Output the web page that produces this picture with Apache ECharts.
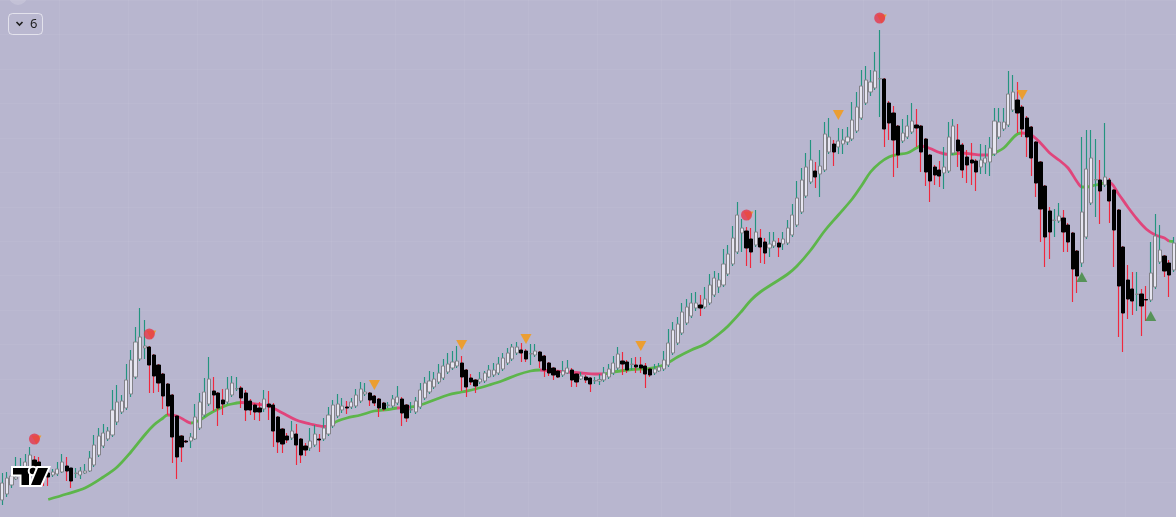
<!DOCTYPE html>
<html><head><meta charset="utf-8">
<script src="https://cdn.jsdelivr.net/npm/echarts@6/dist/echarts.min.js"></script>
<style>html,body{margin:0;padding:0;background:#b8b6cf;overflow:hidden}#c{width:1176px;height:517px}</style>
</head><body><div id="c"></div>
<script>
const opens = [
17,23,32,38,40,42,50,57,55,48,
44,42,43,45,51,49,43.5,42,44,46,
52,62,71,78,82,95,105,109,123,140,
158,169,170,162,152,143,133,122,101,81,
76,76,78,89,102,113,126,124,117,115,
122,128,129,124,116,112,109,108,113,112,
100,88,81,79,83,78,71,69,72,78,
78,83,91,101,107,110,110,111,116,123,
124,121,118,114,111.5,111,114,118,112,107,
105,110,119,125,130,135,139,145,149,151,
154,147,139,137,135,136,140,142,144,148,
154,158,164,167,166,163,162,165,161,154,
149,146,142,144,147,143,138,140,139,136,
136,137,140,144,149,156,155,152.5,152,152,
151,148,144,146,148,152,164,174,184,194,
201,209,212,210,214,222,230,232,243,253,
265,284,286,278,272,279,275,269,271,274,
273,274,282,292,305,321,335,346,343,347,
365,373,370,373,375,378,386,399,414,425,
429,438,438,414,404,391,376,380,385,392,
391,378,362,350,347,344,346,364,377,372,
360,357,356,350,354,355,363,380,388,392,
407,417,410,399,390,375,355,331,306,296.5,
296,299,292,284,266,254,280,314,337,337,
332,337,327,307,270,237,228,222.5,223,217.5,
217,230,255,261,254,247];
const closes = [
34,39,41,40,45,55,62,51,50,40,
40,45,48,55,46,36,44,46,46,59,
72,81,84,86,107,115,116,137,157,175,
180,171,152,141,134,121,111,80,60,70,
75,80,100,115,125,138,122,109,113,128,
134,128.5,119,107,107,105,105,118,110,86,
75,73,77,86,72,62,67,76,83,77,
89,102,112,113,111,109,115,122,128,125,
117,114,109,108,112,118,120,104,99,107.5,
116,127,134,136,138,144,151,153,155,156,
140,130,135,131,138,144,147,147,153,159,
164,170,170,164,158,163.5,166,156,147,144,
142,140,146,149,137,135,141,137,133,136.5,
137.5,144,148,154,163,153,147,153,150,149,
143,142,148,150,157,174,187,193,205,210,
214,214,209,218,232,239,237,253,263,279,
302,289,269,265,285,270,264,273,276,270,
278,289,302,319,337,350,357,340,351,383,
380,365,376,377,380,397,410,431,437,435,
446,438.5,388,394,377,362,384,391,396,389,
365,345,336,342,341,350,380,391,366,347,
352,354,345,357,359,369,396,395,395,423,
425,404,388,380,359,334,308,280,285,297,
301,285,275,248,241,305,348,359,337.5,326,
340,316,287,231,204,218,216,223,211,217,
244,281,267,246,242,274];
const lows = [
12,20,29,37,38,40,48,47,45,31,
31,40,41,44,36,29,39,38,43,45,
50,60,69,76,80,92,103,107,120,138,
156,158,124,124,125,108,102,54,38,55,
74,69,77,87,100,111,106,91,102,113,
120,126,109,96,102,97,96,105,97,70,
64,64,74,77,52,54,61,66,70,65,
76,81,89,99,104,103,108,109,114,121,
111,111,100,106,109,109,112,91,95,104,
103,108,117,123,128,133,137,143,147,149,
126,120,132,124,133,134,139,140,142,146,
152,156,162,155,155,152,160,149,140,141,
137,139,140,143,130,130,137,134,125,133,
132,135,138,142,147,142,144,147,144,144,
129,140,142,145,146,150,162,172,182,192,
199,206,201,208,212,220,224,230,241,251,
263,265,251,249,270,254,253,260,269,260,
267,272,280,290,303,319,333,329,320,345,
363,351,363,363,372,376,384,397,412,421,
427,400,370,377,340,349,374,378,383,370,
345,331,315,332,330,328,344,362,350,339,
334,332,326,343,343,341,361,378,386,390,
405,384,380,360,341,320,275,250,258,280,
294,265,265,215,224,250,278,312,300,293,
330,294,250,180,165,198,202,206,181,196,
215,228,253,240,220,245];
const highs = [
44,45,50,60,59,63,70,61,60,50,
50,48,55,63,60,49,49,50,53,66,
82,89,93,90,127,132,122,153,167,190,
209,197,171,163,153,144,134,123,102,82,
77,84,113,124,139,160,140,125,128,140,
141,140,131,127,118,114,115,127,126,114,
101,89,84,96,93,79,74,89,92,83,
99,110,117,123,119,116,119,128,135,134,
125,122,119,115,115,122,131,120,113,115,
120,134,140,146,145,153,158,164,166,171,
161,148,143,138,145,146,152,154,160,164,
169,173,175,174,168,173,173,166,162,155,
150,147,156,157,149,144,145,142,140,140,
143,150,153,161,170,165,157,159,160,160,
154,149,153,154,166,188,195,200,214,218,
224,225,222,230,243,246,244,268,272,291,
315,298,290,289,307,288,279,285,285,279,
285,297,313,336,349,364,377,355,367,395,
399,377,389,388,390,415,425,447,451,447,
465,487,439,416,411,392,398,402,414,408,
392,379,363,352,356,370,395,398,393,374,
367,374,358,373,372,380,409,409,409,446,
442,435,412,401,391,376,356,332,310,308,
314,307,294,285,267,380,387,387,378,357,
394,339,328,308,271,252,245,245,228,231,
275,303,292,262,257,280];
// moving average: [candle index, value]
const maPoints = [
[10,17.5],[14,23],[18,29],[22,40],[25,50],[28,65],[31,82],[33,92],[35,99],[36,102],
[38,101],[40,96],[41,94],[43,97],[45,103],[47,108],[49,112],[51,114],[52,114.5],[55,113],
[58,111],[61,104],[64,97],[67,93],[70,90.5],[71,91],[73,96],[75,99],[78,102],[81,106],
[84,107.5],[86,109],[89,110],[91,112],[94,117],[97,122],[100,125],[103,128],[106,132],[109,136.5],
[112,142],[115,146],[117,147],[120,146],[123,145],[126,144],[129,143],[131,143],[133,145],[137,147.5],
[141,148.5],[144,152],[147,160],[150,167],[153,173],[156,183],[158,191],[161,206],[163,217],[165,225],
[168,234],[171,243],[173,251],[176,267],[179,286],[182,302],[185,318],[187,331],[189,345],[191,354],
[193,360],[195,362.5],[197,364],[199,369],[200,371],[202,368.5],[204,364.5],[206,362.5],[207,363],[209,364],
[211,363],[213,362],[215,362],[216,364],[218,369],[220,379],[221,383],[222,384],[224,382],[226,374],
[228,364],[230,357],[232,349],[234,335],[235,330],[236,330],[238,332],[240,334],[241,334.5],[243,323],
[245,310],[247,298],[249,288],[251,282],[253,279],[254,276],[255,275.5]];
// index ranges where the average falls (pink); elsewhere it rises (green)
const fallingRanges = [[36,41],[52,70.5],[86,89],[117,131],[200,205.5],[208,214.5],[222,235],[240.5,253.5]];
const redDots = [[7,78],[32,183],[162,302],[191,499]];
const orangeDown = [[81,132],[100,172],[114,178],[139,171],[182,402],[222,422]];
const greenUp = [[235,240],[250,201]];
const gridTicks = [13,28,43,57,72,86,101,115,130,144,159,173,188,202,216,231,245];

const categories = opens.map((_, i) => String(i + 1));
const ohlc = opens.map((o, i) => [o, closes[i], lows[i], highs[i]]);
const bodies = opens.map((o, i) => [o, closes[i], Math.min(o, closes[i]), Math.max(o, closes[i])]);

const GREEN = '#5db54b', PINK = '#e0457b';
const pieces = [];
let last = -1;
fallingRanges.forEach(r => {
  pieces.push({gt: last, lte: r[0], color: GREEN});
  pieces.push({gt: r[0], lte: r[1], color: PINK});
  last = r[1];
});
pieces.push({gt: last, lte: 1000, color: GREEN});

const logoStyle = {fill: '#000', stroke: '#fff', lineWidth: 4, lineJoin: 'miter', strokeFirst: true};

const chart = echarts.init(document.getElementById('c'));
chart.setOption({
  backgroundColor: '#b8b6cf',
  animation: false,
  grid: [
    {left: -0.3, top: 0, width: 1180.2, height: 517},
    {left: 0, top: -12.5, width: 1176, height: 549}
  ],
  xAxis: [
    {type: 'category', data: categories, boundaryGap: true,
     axisLine: {show: false}, axisTick: {show: false}, axisLabel: {show: false},
     splitLine: {show: true, interval: (idx) => gridTicks.includes(idx), lineStyle: {color: 'rgba(255,255,255,0.05)', width: 1}}},
    {gridIndex: 1, type: 'value', min: 0, max: 1, show: false}
  ],
  yAxis: [
    {type: 'value', min: 0, max: 517, show: false},
    {gridIndex: 1, type: 'value', min: 0, max: 15, interval: 1,
     axisLine: {show: false}, axisTick: {show: false}, axisLabel: {show: false},
     splitLine: {show: true, lineStyle: {color: 'rgba(255,255,255,0.05)', width: 1}}}
  ],
  visualMap: {type: 'piecewise', show: false, dimension: 0, seriesIndex: 0, pieces: pieces},
  series: [
    {type: 'line', data: maPoints, smooth: 0.35, showSymbol: false, silent: true, z: 2,
     lineStyle: {width: 2.8}},
    {type: 'candlestick', data: ohlc, barWidth: 1, z: 3, silent: true,
     itemStyle: {color: '#23947f', color0: '#f0283e', borderColor: '#23947f', borderColor0: '#f0283e', borderWidth: 1.15}},
    {type: 'candlestick', data: bodies, barWidth: 3.6, z: 4, silent: true,
     itemStyle: {color: '#e6e5f0', color0: '#000000', borderColor: '#828288', borderColor0: '#000000', borderWidth: 1}},
    {type: 'scatter', data: redDots, symbol: 'triangle', symbolRotate: 180, symbolSize: [10, 9], symbolOffset: [2, 1], z: 5, silent: true,
     itemStyle: {color: '#f59a0c'}},
    {type: 'scatter', data: redDots, symbol: 'circle', symbolSize: 11, z: 6, silent: true,
     itemStyle: {color: '#e6364a'}},
    {type: 'scatter', data: orangeDown, symbol: 'triangle', symbolRotate: 180, symbolSize: [11, 10], z: 6, silent: true,
     itemStyle: {color: '#f7980a'}},
    {type: 'scatter', data: greenUp, symbol: 'triangle', symbolSize: [11, 10], z: 6, silent: true,
     itemStyle: {color: '#3d8b3a'}}
  ],
  graphic: [
    {type: 'circle', shape: {cx: 18, cy: -4, r: 9}, style: {fill: 'rgba(255,255,255,0.16)'}, silent: true},
    {type: 'rect', shape: {x: 8.5, y: 13.5, width: 34, height: 21, r: 4},
     style: {fill: 'rgba(255,255,255,0.03)', stroke: 'rgba(255,255,255,0.6)', lineWidth: 1}},
    {type: 'polyline', shape: {points: [[16.5, 22], [19.5, 25], [22.5, 22]]},
     style: {stroke: '#1e1e1e', lineWidth: 1.6, fill: null}},
    {type: 'text', x: 30, y: 24, style: {text: '6', font: '13px "Noto Sans"', fill: '#1e1e1e', verticalAlign: 'middle'}},
    {type: 'polygon', z: 100, shape: {points: [[13, 468], [29, 468], [29, 485], [21.5, 485], [21.5, 474.5], [13, 474.5]]}, style: logoStyle},
    {type: 'circle', z: 100, shape: {cx: 33, cy: 471, r: 3.3}, style: logoStyle},
    {type: 'polygon', z: 100, shape: {points: [[38, 468], [48, 468], [40.5, 485], [31, 485]]}, style: logoStyle}
  ]
});
</script>
</body></html>
